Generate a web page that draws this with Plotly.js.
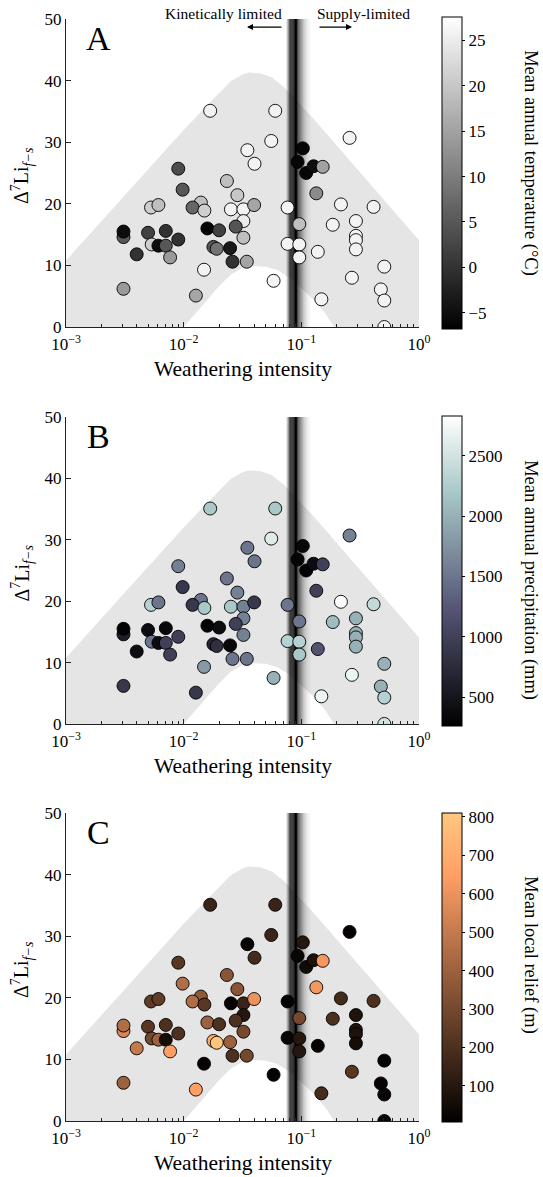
<!DOCTYPE html>
<html>
<head>
<meta charset="utf-8">
<script src="https://cdn.plot.ly/plotly-3.0.1.min.js"></script>
<style>html,body{margin:0;padding:0;background:#fff;}#chart{width:543px;height:1177px;}</style>
</head>
<body>
<div id="chart"></div>
<script>
// ---------- data ----------
const weatheringIntensity = [0.0168,0.060,0.0555,0.0348,0.040,0.257,0.103,0.093,0.110,0.127,0.152,0.134,0.0090,0.0098,0.0233,0.0286,0.0140,0.0119,0.0150,0.0252,0.0322,0.0397,0.0322,0.0277,0.0322,0.0344,0.0159,0.0200,0.0179,0.0191,0.0248,0.0260,0.0149,0.0127,0.0581,0.00308,0.00308,0.00308,0.00399,0.00498,0.00535,0.00528,0.0061,0.0061,0.00705,0.00705,0.00767,0.0090,0.0764,0.096,0.0764,0.096,0.096,0.138,0.148,0.217,0.185,0.291,0.291,0.291,0.291,0.411,0.269,0.507,0.474,0.507,0.507];
const deltaLi = [35.1,35.1,30.2,28.7,26.5,30.7,29.0,26.8,25.0,26.1,26.0,21.7,25.7,22.3,23.7,21.4,20.2,19.4,18.9,19.1,19.1,19.8,17.2,16.3,14.5,10.6,16.0,15.7,13.0,12.7,12.8,10.6,9.3,5.1,7.5,14.6,15.5,6.2,11.8,15.3,13.4,19.4,19.8,13.2,15.6,13.2,11.3,14.2,19.4,16.7,13.5,13.4,11.3,12.2,4.5,19.9,16.6,17.2,14.8,14.1,12.6,19.5,8.0,9.8,6.1,4.3,0.0];
const meanAnnualTemp = [26,26,26,26,26,26,-6,-6,-6,-5,15,12,3.5,5,19,20,19,7,21,26,26,15.5,25,4.5,19,15.5,-6,2,5,8.7,-3.4,0,26,15.5,26,5,-5,14,0,2,21,21,19,-5,0,5,14,0,26,19,26,26,26,26,26,26,26,26,26,26,26,26,26,26,26,26,26];
const meanAnnualPrecip = [2200,2200,2600,1500,1500,1600,350,300,300,400,1000,1000,1600,900,1500,1600,1500,900,2200,2200,1600,900,1600,1000,1600,1500,300,400,700,800,350,1500,1800,900,2000,600,300,900,400,400,1500,2300,1500,400,350,1000,1000,1000,1500,1500,2300,2300,2200,1200,2700,2800,2100,2000,2000,2000,2000,2400,2700,2000,2000,2300,2500];
const meanLocalRelief = [150,150,150,30,180,20,100,30,50,80,620,620,230,450,350,350,370,450,230,20,150,600,100,200,300,300,400,200,700,800,400,200,20,650,20,550,450,400,500,230,300,250,250,400,200,60,650,200,20,300,30,100,100,20,180,180,200,80,80,80,60,200,230,20,20,30,20];

const xTickVals = [0.001, 0.01, 0.1, 1];
const xTickText = ['10<sup>\u22123</sup>','10<sup>\u22122</sup>','10<sup>\u22121</sup>','10<sup>0</sup>'];
const tempTicks = [-5,0,5,10,15,20,25];
const precipTicks = [500,1000,1500,2000,2500];
const reliefTicks = [100,200,300,400,500,600,700,800];

// envelope (log10 of weathering intensity, ΔLi)
const bandUpperLog = [-3,-2.5,-2.0,-1.8,-1.7,-1.6,-1.5,-1.45,-1.35,-1.25,-1.15,-1.05,-0.95,-0.9,-0.5,0];
const bandUpperY   = [10.8,21.4,32.0,36.0,38.0,39.9,41.0,41.3,41.2,40.5,39.0,37.0,35.0,33.9,25.1,14.1];
const bandLowerLog = [-2.0,-1.8,-1.7,-1.6,-1.5,-1.4,-1.3,-1.2,-1.1,-1.0,-0.9,-0.8,-0.72];
const bandLowerY   = [0,4.4,6.6,8.5,9.6,9.9,9.8,9.2,8.0,6.3,4.5,2.3,0];

// transition strip (log10 edges and darkness)
const stripEdgesLog = [-1.125,-1.115,-1.105,-1.095,-1.085,-1.075,-1.065,-1.055,-1.045,-1.035,-1.025,-1.015,-1.005,-0.995,-0.985,-0.975,-0.965,-0.955,-0.945,-0.935,-0.925,-0.915];
const stripAlpha = [0.22,0.42,0.65,0.85,0.96,1,1,1,1,0.82,0.64,0.5,0.39,0.3,0.23,0.17,0.12,0.08,0.05,0.03,0.015];

// ---------- styling ----------
const FONT = 'Liberation Serif';
const AX = '#222';
const grayScale = [[0,'rgb(0,0,0)'],[1,'rgb(255,255,255)']];
const boneScale = [[0,'rgb(0,0,0)'],[0.375,'rgb(84,84,116)'],[0.75,'rgb(167,199,199)'],[1,'rgb(255,255,255)']];
const copperScale = [[0,'rgb(0,0,0)'],[0.8,'rgb(255,159,101)'],[1,'rgb(255,199,127)']];

const panels = [
  {letter:'A', colors:meanAnnualTemp, scale:grayScale, cmin:-6.8, cmax:27.6, ticks:tempTicks, cbY:0.8603, cbLen:312, title:'Mean annual temperature (\u00B0C)', titleY:0.8693, dom:[0.7205,1]},
  {letter:'B', colors:meanAnnualPrecip, scale:boneScale, cmin:260, cmax:2830, ticks:precipTicks, cbY:0.4991, cbLen:310, title:'Mean annual precipitation (mm)', titleY:0.4909, dom:[0.3603,0.6388]},
  {letter:'C', colors:meanLocalRelief, scale:copperScale, cmin:6, cmax:810, ticks:reliefTicks, cbY:0.1393, cbLen:309, title:'Mean local relief (m)', titleY:0.1506, dom:[0,0.2795]}
];

const minorVals = [];
for (let e = -3; e < 0; e++) for (let d = 2; d <= 9; d++) minorVals.push(d * Math.pow(10, e));

// band polygon
const bandX = [1e-3], bandY = [0];
bandUpperLog.forEach((l, i) => { bandX.push(Math.pow(10, l)); bandY.push(bandUpperY[i]); });
bandX.push(1); bandY.push(0);
for (let i = bandLowerLog.length - 1; i >= 0; i--) { bandX.push(Math.pow(10, bandLowerLog[i])); bandY.push(bandLowerY[i]); }
bandX.push(1e-3); bandY.push(0);

const data = [];
const layout = {
  width: 543, height: 1177,
  margin: {l:66, r:124, t:19, b:56},
  paper_bgcolor: '#fff', plot_bgcolor: '#fff',
  showlegend: false,
  font: {family: FONT, color: '#000', size: 17},
  annotations: [], shapes: []
};

panels.forEach((p, k) => {
  const s = k === 0 ? '' : String(k + 1);
  const xa = 'x' + s, ya = 'y' + s;
  data.push({type:'scatter', mode:'lines', x:bandX, y:bandY, fill:'toself', fillcolor:'#e5e5e5',
             line:{width:0, color:'rgba(0,0,0,0)'}, hoverinfo:'skip', xaxis:xa, yaxis:ya});
  for (let i = 0; i < stripAlpha.length; i++) {
    const a = Math.pow(10, stripEdgesLog[i]), b = Math.pow(10, stripEdgesLog[i+1]);
    data.push({type:'scatter', mode:'lines', x:[a,b,b,a,a], y:[0,0,50,50,0], fill:'toself',
               fillcolor:'rgba(0,0,0,' + stripAlpha[i] + ')', line:{width:0, color:'rgba(0,0,0,0)'},
               hoverinfo:'skip', xaxis:xa, yaxis:ya});
  }
  data.push({type:'scatter', mode:'markers', x:weatheringIntensity, y:deltaLi, xaxis:xa, yaxis:ya,
    marker:{size:13, color:p.colors, colorscale:p.scale, cmin:p.cmin, cmax:p.cmax, showscale:true,
      line:{color:'#000', width:0.9},
      colorbar:{x:1.065, xanchor:'left', xpad:0, y:p.cbY, yanchor:'middle', ypad:0, len:p.cbLen, lenmode:'pixels',
        thickness:20, outlinewidth:1, outlinecolor:'#000', ticks:'outside', ticklen:3, tickcolor:'#000',
        tickvals:p.ticks, tickfont:{family:FONT, size:17, color:'#000'}, title:{text:''}}}});

  layout['xaxis' + s] = {type:'log', range:[-3,0], anchor:ya, domain:[0,1],
    tickvals:xTickVals, ticktext:xTickText, ticks:'inside', ticklen:5, tickcolor:AX,
    minor:{tickvals:minorVals, ticks:'inside', ticklen:3, tickcolor:AX, showgrid:false},
    showline:true, linecolor:AX, linewidth:1, showgrid:false, zeroline:false, ticklabelstandoff:2,
    tickfont:{family:FONT, size:17, color:'#000'}};
  layout['yaxis' + s] = {range:[0,50], anchor:xa, domain:p.dom, dtick:10, tick0:0,
    ticks:'inside', ticklen:5, tickcolor:AX, showline:true, linecolor:AX, linewidth:1,
    showgrid:false, zeroline:false, tickfont:{family:FONT, size:17, color:'#000'}};

  const ann = layout.annotations;
  ann.push({xref:xa + ' domain', yref:ya + ' domain', x:0.0907, y:0.938, text:p.letter, showarrow:false,
            font:{family:FONT, size:34, color:'#000'}, xanchor:'center', yanchor:'middle'});
  ann.push({xref:xa + ' domain', yref:ya + ' domain', x:0.5, y:0, yshift:-42, text:'Weathering intensity', showarrow:false,
            font:{family:FONT, size:21.5, color:'#000'}, xanchor:'center', yanchor:'middle'});
  ann.push({xref:xa + ' domain', yref:ya + ' domain', x:0, xshift:-44, y:0.49, textangle:-90,
            text:'\u0394<sup>7</sup>Li<sub><i>f\u2212s</i></sub>', showarrow:false,
            font:{family:FONT, size:20, color:'#000'}, xanchor:'center', yanchor:'middle'});
  ann.push({xref:'paper', yref:'paper', x:1.317, y:p.titleY, textangle:90, text:p.title, showarrow:false,
            font:{family:FONT, size:18.5, color:'#000'}, xanchor:'center', yanchor:'middle'});
});

// regime labels
layout.annotations.push({xref:'paper', yref:'paper', x:0.4448, y:1.0054, text:'Kinetically limited', showarrow:false,
  font:{family:FONT, size:15.5, color:'#000'}, xanchor:'center', yanchor:'middle'});
layout.annotations.push({xref:'paper', yref:'paper', x:0.8428, y:1.0054, text:'Supply-limited', showarrow:false,
  font:{family:FONT, size:15.5, color:'#000'}, xanchor:'center', yanchor:'middle'});
layout.annotations.push({xref:'paper', yref:'paper', x:0.5127, y:0.9927, text:'', showarrow:true,
  ax:36, ay:0, arrowhead:2, arrowsize:1, arrowwidth:1.2, arrowcolor:'#000'});
layout.annotations.push({xref:'paper', yref:'paper', x:0.8102, y:0.9927, text:'', showarrow:true,
  ax:-34, ay:0, arrowhead:2, arrowsize:1, arrowwidth:1.2, arrowcolor:'#000'});

Plotly.newPlot('chart', data, layout, {displayModeBar:false, staticPlot:true});
</script>
</body>
</html>
